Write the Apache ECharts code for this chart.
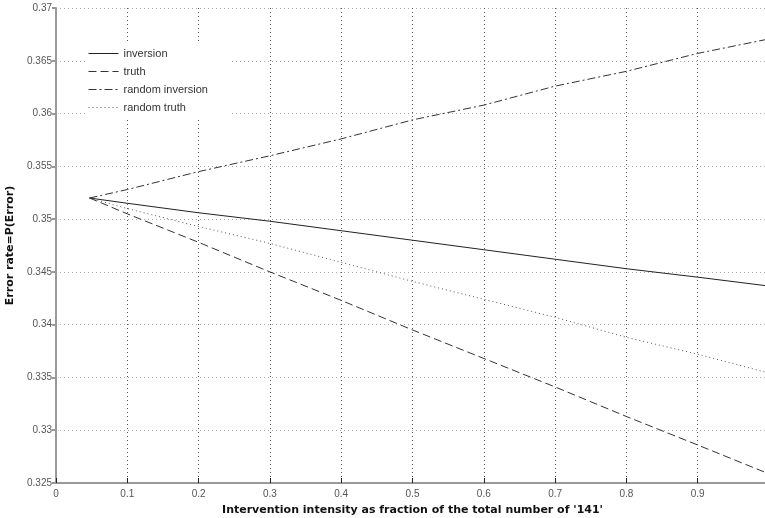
<!DOCTYPE html>
<html>
<head>
<meta charset="utf-8">
<script src="https://cdn.jsdelivr.net/npm/echarts@6/dist/echarts.min.js"></script>
<style>
html,body{margin:0;padding:0;background:#fff;}
#c{width:765px;height:518px;}
</style>
</head>
<body>
<div id="c"></div>
<script>
// Data
const xValues = [0.047, 0.1, 0.2, 0.3, 0.4, 0.5, 0.6, 0.7, 0.8, 0.9, 0.995];
const inversion = [0.3520, 0.3515, 0.3506, 0.3498, 0.3489, 0.3480, 0.3471, 0.3462, 0.3453, 0.3445, 0.3437];
const truth = [0.3520, 0.3505, 0.3478, 0.3450, 0.3423, 0.3395, 0.3368, 0.3341, 0.3313, 0.3286, 0.3260];
const randomInversion = [0.3520, 0.3528, 0.3545, 0.3560, 0.3576, 0.3594, 0.3608, 0.3626, 0.3640, 0.3657, 0.3670];
const randomTruth = [0.3520, 0.3510, 0.3493, 0.3477, 0.3459, 0.3441, 0.3424, 0.3407, 0.3388, 0.3372, 0.3355];
const seriesNames = ['inversion', 'truth', 'random inversion', 'random truth'];
const xTitle = "Intervention intensity as fraction of the total number of '141'";
const yTitle = 'Error rate=P(Error)';

function pairs(ys) { return xValues.map((x, i) => [x, ys[i]]); }

const chart = echarts.init(document.getElementById('c'), null, {renderer: 'canvas'});
const lineBase = {type: 'line', symbol: 'none', showSymbol: false, smooth: false, animation: false};
chart.setOption({
  animation: false,
  backgroundColor: '#fff',
  grid: {left: 56, top: 8, width: 713, height: 475, containLabel: false, outerBoundsMode: 'none'},
  legend: {
    orient: 'vertical', left: 86, top: 44,
    itemWidth: 30, itemHeight: 11, itemGap: 7,
    padding: [4, 22, 4, 2],
    backgroundColor: '#fff',
    itemStyle: {opacity: 0},
    lineStyle: {width: 1},
    textStyle: {fontSize: 11, color: '#333', fontFamily: 'Liberation Sans, Arial, sans-serif'},
    data: seriesNames
  },
  xAxis: {
    type: 'value', min: 0, max: 1, interval: 0.1,
    name: xTitle, nameLocation: 'middle', nameGap: 22,
    nameTextStyle: {fontSize: 11, fontWeight: 'bold', color: '#111', fontFamily: 'DejaVu Sans, sans-serif'},
    axisLine: {show: true, lineStyle: {color: '#999', width: 2}},
    axisTick: {show: true, inside: true, length: 5, lineStyle: {color: '#222'}},
    axisLabel: {fontSize: 10, color: '#555', margin: 6, showMaxLabel: false,
      fontFamily: 'Liberation Sans, Arial, sans-serif',
      formatter: v => (Math.round(v * 10) / 10).toString()},
    splitLine: {show: true, lineStyle: {type: [1, 3], color: '#555', width: 1}}
  },
  yAxis: {
    type: 'value', min: 0.325, max: 0.37, interval: 0.005,
    name: yTitle, nameLocation: 'middle', nameGap: 36,
    nameTextStyle: {fontSize: 11, fontWeight: 'bold', color: '#111', fontFamily: 'DejaVu Sans, sans-serif'},
    axisLine: {show: true, lineStyle: {color: '#999', width: 2}},
    axisTick: {show: true, inside: false, length: 4, lineStyle: {color: '#999', width: 2}},
    axisLabel: {fontSize: 10, color: '#555', margin: 4,
      fontFamily: 'Liberation Sans, Arial, sans-serif',
      formatter: v => parseFloat(v.toFixed(3)).toString()},
    splitLine: {show: true, lineStyle: {type: [1, 3], color: '#aaa', width: 1}}
  },
  series: [
    Object.assign({}, lineBase, {name: seriesNames[0], data: pairs(inversion),
      lineStyle: {color: '#222', width: 1, type: 'solid'}, itemStyle: {color: '#222'}}),
    Object.assign({}, lineBase, {name: seriesNames[1], data: pairs(truth),
      lineStyle: {color: '#333', width: 1, type: [8, 4]}, itemStyle: {color: '#333'}}),
    Object.assign({}, lineBase, {name: seriesNames[2], data: pairs(randomInversion),
      lineStyle: {color: '#333', width: 1, type: [8, 3, 2, 3]}, itemStyle: {color: '#333'}}),
    Object.assign({}, lineBase, {name: seriesNames[3], data: pairs(randomTruth),
      lineStyle: {color: '#555', width: 1, type: [1, 3]}, itemStyle: {color: '#555'}})
  ]
});
</script>
</body>
</html>
